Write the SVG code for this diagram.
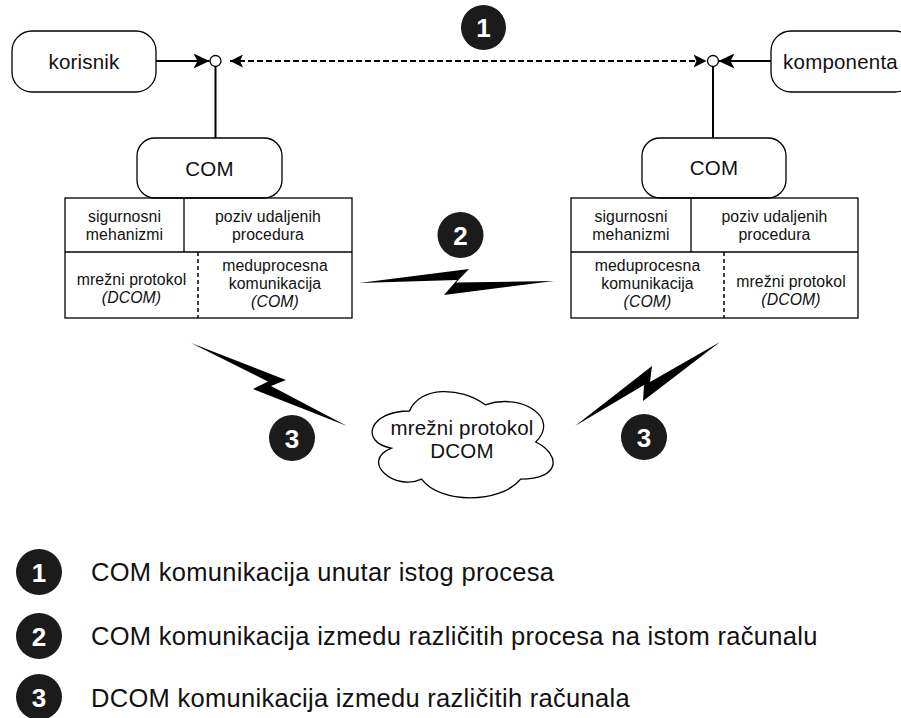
<svg xmlns="http://www.w3.org/2000/svg" width="901" height="718" viewBox="0 0 901 718">
  <style>
    .box{fill:#fff;stroke:#000;stroke-width:1.3}
    .cell{fill:none;stroke:#000;stroke-width:1.3}
    .sep{stroke:#000;stroke-width:1.5;stroke-dasharray:4 3}
    .lbl{font-family:"Liberation Sans",Arial,sans-serif;font-size:20.5px;letter-spacing:0.2px;text-anchor:middle;fill:#111}
    .sm{font-family:"Liberation Sans",Arial,sans-serif;font-size:15.8px;letter-spacing:0.1px;text-anchor:middle;fill:#111}
    .it{font-style:italic}
    .badge circle{fill:#1b1b1b}
    .badge text{font-family:"Liberation Sans",Arial,sans-serif;font-weight:bold;font-size:26px;fill:#fff;text-anchor:middle}
    .legend{font-family:"Liberation Sans",Arial,sans-serif;font-size:25.5px;letter-spacing:0.3px;fill:#111}
    .wire{stroke:#000;stroke-width:2;fill:none}
    .dash{stroke-dasharray:6 3}
    .bolt{fill:#000}
  </style>
  <defs>
    <marker id="block" viewBox="0 0 16 15" refX="16" refY="7.5" markerWidth="16" markerHeight="15" markerUnits="userSpaceOnUse" orient="auto">
      <path d="M0,0 L16,7.5 L0,15 L4,7.5 Z" fill="#000"/>
    </marker>
    <marker id="blockSm" viewBox="0 0 13 13" refX="13" refY="6.5" markerWidth="13" markerHeight="13" markerUnits="userSpaceOnUse" orient="auto-start-reverse">
      <path d="M0,0 L13,6.5 L0,13 L3,6.5 Z" fill="#000"/>
    </marker>
  </defs>

  <rect width="901" height="718" fill="#fff"/>

  <!-- connectors -->
  <g id="connectors">
    <line class="wire" x1="156" y1="61" x2="209.5" y2="61" marker-end="url(#block)"/>
    <line class="wire dash" x1="230" y1="61" x2="706.5" y2="61" marker-start="url(#blockSm)" marker-end="url(#blockSm)"/>
    <line class="wire" x1="771" y1="61" x2="718.5" y2="61" marker-end="url(#block)"/>
    <line class="wire" x1="215.5" y1="66.5" x2="215.5" y2="138"/>
    <line class="wire" x1="713" y1="66.5" x2="713" y2="138"/>
    <circle cx="215.5" cy="61" r="5.5" fill="#fff" stroke="#000" stroke-width="1.3"/>
    <circle cx="713" cy="61" r="5.5" fill="#fff" stroke="#000" stroke-width="1.3"/>
    <!-- lightning links -->
    <polygon class="bolt" points="359,283 469,269 456,282.5 554,281 444,295 457,280"/>
    <polygon class="bolt" points="191,343 286,380 271,386 347,426 253,389 268,381.5"/>
    <polygon class="bolt" points="575,426 652,366 650,382 720,342 643,401 644,385"/>
  </g>

  <!-- end points -->
  <g id="korisnik">
    <rect class="box" x="12" y="31" width="144" height="61" rx="20"/>
    <text class="lbl" x="84" y="68.5">korisnik</text>
  </g>
  <g id="komponenta">
    <rect class="box" x="771" y="31" width="144" height="61" rx="20"/>
    <text class="lbl" x="840.5" y="68.5">komponenta</text>
  </g>

  <!-- COM runtime, left -->
  <g id="com-left">
    <rect class="box" x="137" y="138" width="145" height="60" rx="18"/>
    <text class="lbl" x="209.5" y="175.5">COM</text>
  </g>
  <g id="stack-left">
    <rect class="cell" x="65" y="198" width="287" height="120"/>
    <line class="cell" x1="65" y1="252" x2="352" y2="252"/>
    <line class="cell" x1="184" y1="198" x2="184" y2="252"/>
    <line class="sep" x1="198" y1="252" x2="198" y2="318"/>
    <text class="sm" x="124.5" y="221.5">sigurnosni</text>
    <text class="sm" x="124.5" y="240">mehanizmi</text>
    <text class="sm" x="268" y="221.5">poziv udaljenih</text>
    <text class="sm" x="268" y="240">procedura</text>
    <text class="sm" x="131.5" y="285">mrežni protokol</text>
    <text class="sm it" x="131.5" y="303">(DCOM)</text>
    <text class="sm" x="275" y="271">meduprocesna</text>
    <text class="sm" x="275" y="289">komunikacija</text>
    <text class="sm it" x="275" y="307">(COM)</text>
  </g>

  <!-- COM runtime, right -->
  <g id="com-right">
    <rect class="box" x="642" y="138" width="144" height="60" rx="18"/>
    <text class="lbl" x="714" y="175">COM</text>
  </g>
  <g id="stack-right">
    <rect class="cell" x="571" y="198" width="287" height="120"/>
    <line class="cell" x1="571" y1="252" x2="858" y2="252"/>
    <line class="cell" x1="691" y1="198" x2="691" y2="252"/>
    <line class="sep" x1="724" y1="252" x2="724" y2="318"/>
    <text class="sm" x="631" y="221.5">sigurnosni</text>
    <text class="sm" x="631" y="240">mehanizmi</text>
    <text class="sm" x="774.5" y="221.5">poziv udaljenih</text>
    <text class="sm" x="774.5" y="240">procedura</text>
    <text class="sm" x="647.5" y="271">meduprocesna</text>
    <text class="sm" x="647.5" y="289">komunikacija</text>
    <text class="sm it" x="647.5" y="307">(COM)</text>
    <text class="sm" x="791" y="287">mrežni protokol</text>
    <text class="sm it" x="791" y="305">(DCOM)</text>
  </g>

  <!-- network cloud -->
  <g id="network">
    <path class="box" d="M409.5,411 C369.1,411 359,442 391.3,448.2 C359,461.8 395.4,491.6 421.6,479.2 C439.8,504 500.4,504 520.6,479.2 C561,479.2 561,454.4 535.75,442 C561,417.2 520.6,392.4 485.25,404.8 C460,386.2 419.6,386.2 409.5,411 Z"/>
    <text class="lbl" x="462" y="435">mrežni protokol</text>
    <text class="lbl" x="462" y="458">DCOM</text>
  </g>

  <!-- numbered markers -->
  <g id="badge-1" class="badge"><circle cx="483.5" cy="27.5" r="22.5"/><text x="483.5" y="37">1</text></g>
  <g id="badge-2" class="badge"><circle cx="460.5" cy="235" r="23"/><text x="460.5" y="244.5">2</text></g>
  <g id="badge-3a" class="badge"><circle cx="292" cy="438" r="23"/><text x="292" y="447.5">3</text></g>
  <g id="badge-3b" class="badge"><circle cx="644" cy="437" r="23"/><text x="644" y="446.5">3</text></g>

  <!-- legend -->
  <g id="legend">
    <g class="badge"><circle cx="39" cy="572" r="23"/><text x="39" y="581.5">1</text></g>
    <g class="badge"><circle cx="39" cy="636" r="23"/><text x="39" y="645.5">2</text></g>
    <g class="badge"><circle cx="39" cy="697" r="23"/><text x="39" y="706.5">3</text></g>
    <text class="legend" x="91" y="580.5">COM komunikacija unutar istog procesa</text>
    <text class="legend" x="91" y="645">COM komunikacija izmedu različitih procesa na istom računalu</text>
    <text class="legend" x="91" y="706.5">DCOM komunikacija izmedu različitih računala</text>
  </g>
</svg>
